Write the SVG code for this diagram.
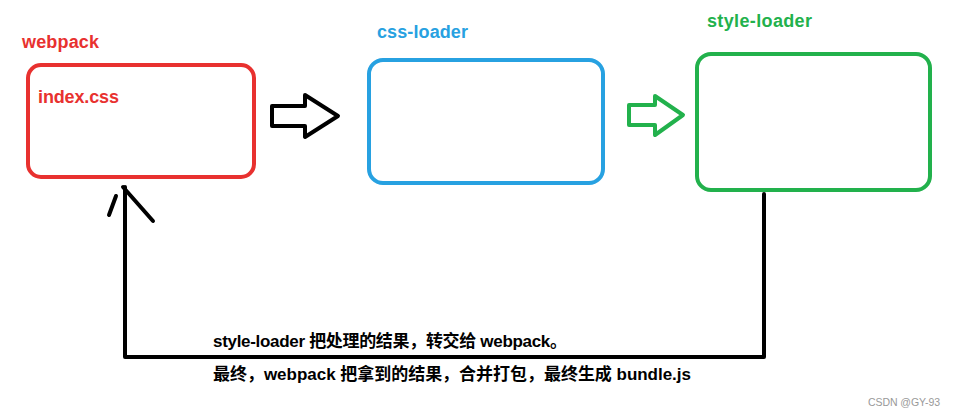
<svg xmlns="http://www.w3.org/2000/svg" width="953" height="416" viewBox="0 0 953 416">
<style>
.t{font-family:"Liberation Sans","Noto Sans CJK SC",sans-serif;font-weight:bold;}
.box{fill:none;stroke-width:4;}
.blk{fill:none;stroke:#000;stroke-width:4;stroke-linecap:round;stroke-linejoin:round;}
.grn{stroke:#22b14c;}
</style>
<rect width="953" height="416" fill="#fff"/>
<g id="webpack">
<rect class="box" x="28" y="65" width="226" height="112" rx="13" stroke="#e8312f"/>
<text class="t" x="22" y="48" font-size="18" fill="#e8312f" textLength="77">webpack</text>
<text class="t" x="38" y="103" font-size="18" fill="#e8312f" textLength="81">index.css</text>
</g>
<g id="css-loader">
<rect class="box" x="369" y="60" width="234" height="123" rx="14" stroke="#27a1e1"/>
<text class="t" x="377" y="38" font-size="18" fill="#27a1e1" textLength="91">css-loader</text>
</g>
<g id="style-loader">
<rect class="box" x="697" y="54" width="233" height="136" rx="14" stroke="#22b14c"/>
<text class="t" x="707" y="27" font-size="18" fill="#22b14c" textLength="105">style-loader</text>
</g>
<g id="connectors">
<path class="blk" d="M272,106 H305 V95 L338,116 L305,137 V126 H272 Z"/>
<path class="blk grn" d="M629,105 H655 V96 L683,115 L655,135 V125 H629 Z"/>
<path class="blk" d="M764,194 V357 H125 V187" stroke-linecap="square"/>
<path class="blk" d="M123,187 L153,221 M116,196 L109,215"/>
</g>
<g id="notes">
<text class="t" x="213" y="347" font-size="17" fill="#000" textLength="354">style-loader 把处理的结果，转交给 webpack。</text>
<text class="t" x="213" y="380" font-size="17" fill="#000" textLength="478">最终，webpack 把拿到的结果，合并打包，最终生成 bundle.js</text>
<text x="868" y="406" font-family="Liberation Sans, sans-serif" font-size="10.5" fill="#999" textLength="72">CSDN @GY-93</text>
</g>
</svg>
